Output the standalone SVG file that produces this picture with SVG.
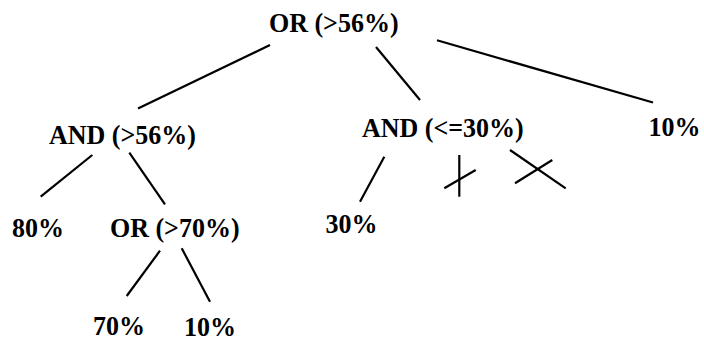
<svg xmlns="http://www.w3.org/2000/svg" width="704" height="341" viewBox="0 0 704 341">
<style>
text{font-family:"Liberation Serif","Times New Roman",serif;font-weight:bold;font-size:26px;fill:#000}
line{stroke:#000;stroke-width:2.2;stroke-linecap:butt}
</style>
<rect width="704" height="341" fill="#fff"/>
<g id="connectors">
<line x1="270" y1="45" x2="138" y2="108.5"/>
<line x1="376" y1="47" x2="420" y2="100"/>
<line x1="437" y1="40.3" x2="653" y2="102.5"/>
<line x1="92.3" y1="155" x2="40.7" y2="196.7"/>
<line x1="129.3" y1="152.7" x2="165" y2="204.3"/>
<line x1="160" y1="250.7" x2="126.7" y2="296"/>
<line x1="181.7" y1="248.3" x2="210" y2="301.7"/>
<line x1="384.3" y1="156.7" x2="360" y2="201.7"/>
<line x1="459.3" y1="155" x2="459.3" y2="196.7"/>
<line x1="444.3" y1="188.3" x2="475.7" y2="170"/>
<line x1="510" y1="150" x2="565.7" y2="188.3"/>
<line x1="515" y1="183.3" x2="552.3" y2="160"/>
</g>
<g id="or-root"><text transform="translate(269,32) scale(1,1.07)">OR (&gt;56%)</text></g>
<g id="and-left"><text transform="translate(49,144) scale(1,1.07)">AND (&gt;56%)</text></g>
<g id="and-right"><text transform="translate(362,137) scale(1,1.07)">AND (&lt;=30%)</text></g>
<g id="leaf-10-right"><text transform="translate(648.5,136) scale(1,1.07)">10%</text></g>
<g id="leaf-80"><text transform="translate(12,237) scale(1,1.07)">80%</text></g>
<g id="or-70"><text transform="translate(110,237) scale(1,1.07)">OR (&gt;70%)</text></g>
<g id="leaf-30"><text transform="translate(325.5,233) scale(1,1.07)">30%</text></g>
<g id="leaf-70"><text transform="translate(93,335) scale(1,1.07)">70%</text></g>
<g id="leaf-10-bottom"><text transform="translate(184,336) scale(1,1.07)">10%</text></g>
</svg>
